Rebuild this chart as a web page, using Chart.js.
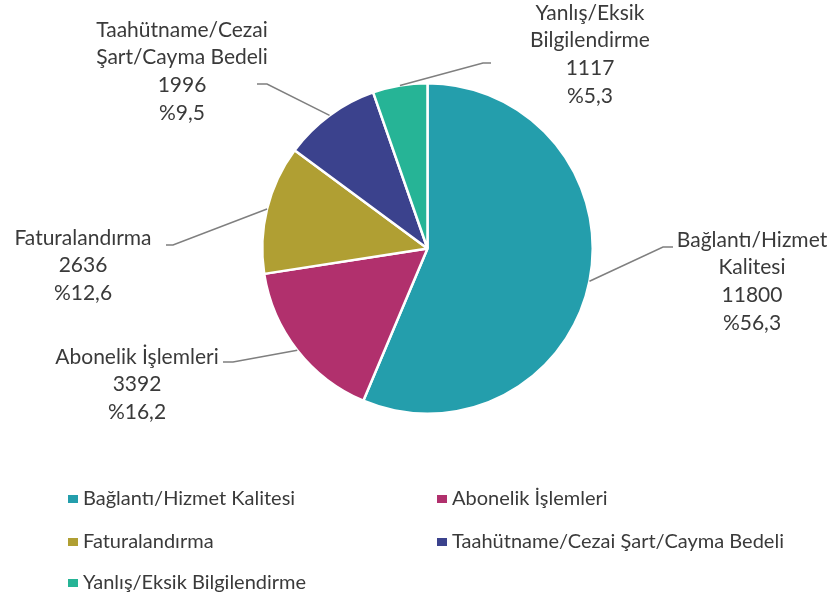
<!DOCTYPE html>
<html>
<head>
<meta charset="utf-8">
<script src="https://cdn.jsdelivr.net/npm/chart.js@4.4.0/dist/chart.umd.min.js"></script>
<style>
  body { margin: 0; background: #fff; }
  #wrap { width: 827px; height: 600px; position: relative; }
</style>
</head>
<body>
<div id="wrap"><canvas id="pieChart"></canvas></div>
<script>
// Chart data
const categories = [
    'Bağlantı/Hizmet Kalitesi',
    'Abonelik İşlemleri',
    'Faturalandırma',
    'Taahütname/Cezai Şart/Cayma Bedeli',
    'Yanlış/Eksik Bilgilendirme'
];
// how each data label is wrapped next to the pie
const labelLines = [
    ['Bağlantı/Hizmet', 'Kalitesi'],
    ['Abonelik İşlemleri'],
    ['Faturalandırma'],
    ['Taahütname/Cezai', 'Şart/Cayma Bedeli'],
    ['Yanlış/Eksik', 'Bilgilendirme']
];
const complaintCounts = [11800, 3392, 2636, 1996, 1117];
const sliceColors = ['#249EAC', '#B1306D', '#B09F33', '#3B428D', '#26B496'];

const FONT = 'Lato, "Open Sans", sans-serif';
const TEXT_COLOR = '#3a3a3a';

// Label placement for each slice: elbow of leader line, line end, text centre, first text line y
const labelLayout = [
    { elbow: [663, 247], end: [673, 247], tx: 752, ty: 240 },
    { elbow: [233, 362], end: [223, 362], tx: 137, ty: 357 },
    { elbow: [173, 245], end: [166, 245], tx: 83, ty: 238 },
    { elbow: [267, 84], end: [257, 84], tx: 182, ty: 30 },
    { elbow: [483, 63], end: [491, 63], tx: 590, ty: 13 }
];

// Outside labels with leader lines
const outsideLabels = {
    id: 'outsideLabels',
    afterDatasetsDraw(chart) {
        const ctx = chart.ctx;
        const meta = chart.getDatasetMeta(0);
        const data = chart.data.datasets[0].data;
        const total = data.reduce((s, v) => s + v, 0);

        ctx.save();
        meta.data.forEach((arc, i) => {
            const mid = (arc.startAngle + arc.endAngle) / 2;
            const ax = arc.x + Math.cos(mid) * arc.outerRadius;
            const ay = arc.y + Math.sin(mid) * arc.outerRadius;
            const lay = labelLayout[i];

            ctx.strokeStyle = '#7f7f7f';
            ctx.lineWidth = 1.5;
            ctx.beginPath();
            ctx.moveTo(ax, ay);
            ctx.lineTo(lay.elbow[0], lay.elbow[1]);
            ctx.lineTo(lay.end[0], lay.end[1]);
            ctx.stroke();

            const pct = '%' + (data[i] / total * 100).toFixed(1).replace('.', ',');
            const lines = labelLines[i].concat([String(data[i]), pct]);
            ctx.fillStyle = TEXT_COLOR;
            ctx.font = '21px ' + FONT;
            ctx.textAlign = 'center';
            ctx.textBaseline = 'middle';
            lines.forEach((t, k) => ctx.fillText(t, lay.tx, lay.ty + k * 27.6));
        });
        ctx.restore();
    }
};

// Two-column legend under the pie
const gridLegend = {
    id: 'gridLegend',
    afterDraw(chart) {
        const ctx = chart.ctx;
        const colX = [68, 437];
        const rowY = [499, 542, 583];
        ctx.save();
        ctx.font = '20px ' + FONT;
        ctx.textAlign = 'left';
        ctx.textBaseline = 'middle';
        categories.forEach((name, i) => {
            const x = colX[i % 2];
            const y = rowY[Math.floor(i / 2)];
            ctx.fillStyle = sliceColors[i];
            ctx.fillRect(x, y - 4, 10, 8);
            ctx.fillStyle = TEXT_COLOR;
            ctx.fillText(name, x + 15, y);
        });
        ctx.restore();
    }
};

new Chart(document.getElementById('pieChart'), {
    type: 'pie',
    data: {
        labels: categories,
        datasets: [{
            data: complaintCounts,
            backgroundColor: sliceColors,
            borderColor: '#ffffff',
            borderWidth: 2.5
        }]
    },
    options: {
        responsive: true,
        maintainAspectRatio: false,
        animation: false,
        layout: {
            padding: { left: 261, right: 233, top: 82, bottom: 185 }
        },
        plugins: {
            legend: { display: false },
            tooltip: { enabled: false }
        }
    },
    plugins: [outsideLabels, gridLegend]
});
</script>
</body>
</html>
